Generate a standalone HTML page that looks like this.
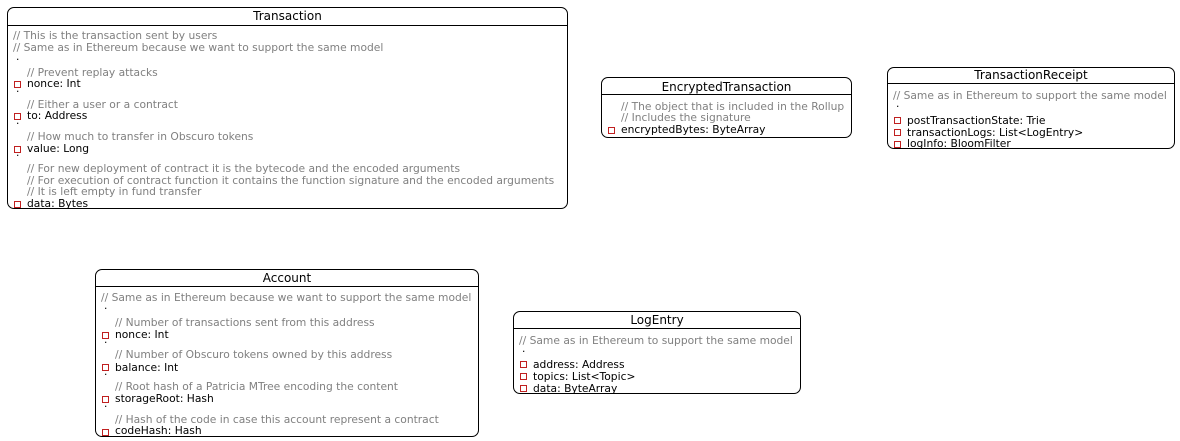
<!DOCTYPE html>
<html><head><meta charset="utf-8"><style>
body{margin:0;width:1180px;height:441px;background:#fff;position:relative;overflow:hidden;font-family:"DejaVu Sans","Liberation Sans",sans-serif}
.b{position:absolute;border:1.7px solid #000;border-radius:7px;box-sizing:border-box;background:#fff}
.h{position:absolute;left:0;right:0;border-top:1.5px solid #000}
.t{position:absolute;font-size:12px;line-height:14px;text-align:center;color:#000}
.l{position:absolute;font-size:10.7px;line-height:12px;white-space:pre;color:#000;margin-top:1.5px}
.c{color:#808080}
.s{position:absolute;width:5px;height:5px;border:1px solid #c02020;margin-top:1px}
</style></head><body>

<!-- Transaction -->
<div class="b" style="left:7px;top:7px;width:561px;height:202px"><div class="h" style="top:17px"></div></div>
<div class="t" style="left:7px;width:561px;top:9px">Transaction</div>
<div class="l c" style="left:13px;top:28px">// This is the transaction sent by users</div>
<div class="l c" style="left:13px;top:40px">// Same as in Ethereum because we want to support the same model</div>
<div class="l" style="left:16px;top:49px">.</div>
<div class="l c" style="left:27px;top:65px">// Prevent replay attacks</div>
<div class="s" style="left:14px;top:80px"></div><div class="l" style="left:27px;top:76px">nonce: Int</div>
<div class="l" style="left:16px;top:81px">.</div>
<div class="l c" style="left:27px;top:97px">// Either a user or a contract</div>
<div class="s" style="left:14px;top:112px"></div><div class="l" style="left:27px;top:108px">to: Address</div>
<div class="l" style="left:16px;top:113px">.</div>
<div class="l c" style="left:27px;top:129px">// How much to transfer in Obscuro tokens</div>
<div class="s" style="left:14px;top:145px"></div><div class="l" style="left:27px;top:141px">value: Long</div>
<div class="l" style="left:16px;top:145px">.</div>
<div class="l c" style="left:27px;top:161px">// For new deployment of contract it is the bytecode and the encoded arguments</div>
<div class="l c" style="left:27px;top:173px">// For execution of contract function it contains the function signature and the encoded arguments</div>
<div class="l c" style="left:27px;top:184px">// It is left empty in fund transfer</div>
<div class="s" style="left:14px;top:200px"></div><div class="l" style="left:27px;top:196px">data: Bytes</div>

<!-- EncryptedTransaction -->
<div class="b" style="left:601px;top:77px;width:251px;height:61px"><div class="h" style="top:16px"></div></div>
<div class="t" style="left:601px;width:251px;top:80px">EncryptedTransaction</div>
<div class="l c" style="left:621px;top:99px">// The object that is included in the Rollup</div>
<div class="l c" style="left:621px;top:110px">// Includes the signature</div>
<div class="s" style="left:608px;top:126px"></div><div class="l" style="left:621px;top:122px">encryptedBytes: ByteArray</div>

<!-- TransactionReceipt -->
<div class="b" style="left:887px;top:67px;width:288px;height:82px"><div class="h" style="top:15px"></div></div>
<div class="t" style="left:887px;width:288px;top:68px">TransactionReceipt</div>
<div class="l c" style="left:893px;top:88px">// Same as in Ethereum to support the same model</div>
<div class="l" style="left:896px;top:96px">.</div>
<div class="s" style="left:894px;top:116px"></div><div class="l" style="left:907px;top:113px">postTransactionState: Trie</div>
<div class="s" style="left:894px;top:128px"></div><div class="l" style="left:907px;top:125px">transactionLogs: List&lt;LogEntry&gt;</div>
<div class="s" style="left:894px;top:140px"></div><div class="l" style="left:907px;top:136px">logInfo: BloomFilter</div>

<!-- Account -->
<div class="b" style="left:95px;top:269px;width:384px;height:168px"><div class="h" style="top:16px"></div></div>
<div class="t" style="left:95px;width:384px;top:271px">Account</div>
<div class="l c" style="left:101px;top:290px">// Same as in Ethereum because we want to support the same model</div>
<div class="l" style="left:104px;top:298px">.</div>
<div class="l c" style="left:115px;top:315px">// Number of transactions sent from this address</div>
<div class="s" style="left:102px;top:331px"></div><div class="l" style="left:115px;top:327px">nonce: Int</div>
<div class="l" style="left:104px;top:332px">.</div>
<div class="l c" style="left:115px;top:347px">// Number of Obscuro tokens owned by this address</div>
<div class="s" style="left:102px;top:363px"></div><div class="l" style="left:115px;top:360px">balance: Int</div>
<div class="l" style="left:104px;top:364px">.</div>
<div class="l c" style="left:115px;top:379px">// Root hash of a Patricia MTree encoding the content</div>
<div class="s" style="left:102px;top:395px"></div><div class="l" style="left:115px;top:391px">storageRoot: Hash</div>
<div class="l" style="left:104px;top:396px">.</div>
<div class="l c" style="left:115px;top:412px">// Hash of the code in case this account represent a contract</div>
<div class="s" style="left:102px;top:428px"></div><div class="l" style="left:115px;top:423px">codeHash: Hash</div>

<!-- LogEntry -->
<div class="b" style="left:513px;top:311px;width:288px;height:83px"><div class="h" style="top:16px"></div></div>
<div class="t" style="left:513px;width:288px;top:313px">LogEntry</div>
<div class="l c" style="left:519px;top:333px">// Same as in Ethereum to support the same model</div>
<div class="l" style="left:522px;top:341px">.</div>
<div class="s" style="left:520px;top:360px"></div><div class="l" style="left:533px;top:357px">address: Address</div>
<div class="s" style="left:520px;top:372px"></div><div class="l" style="left:533px;top:369px">topics: List&lt;Topic&gt;</div>
<div class="s" style="left:520px;top:384px"></div><div class="l" style="left:533px;top:381px">data: ByteArray</div>
</body></html>
